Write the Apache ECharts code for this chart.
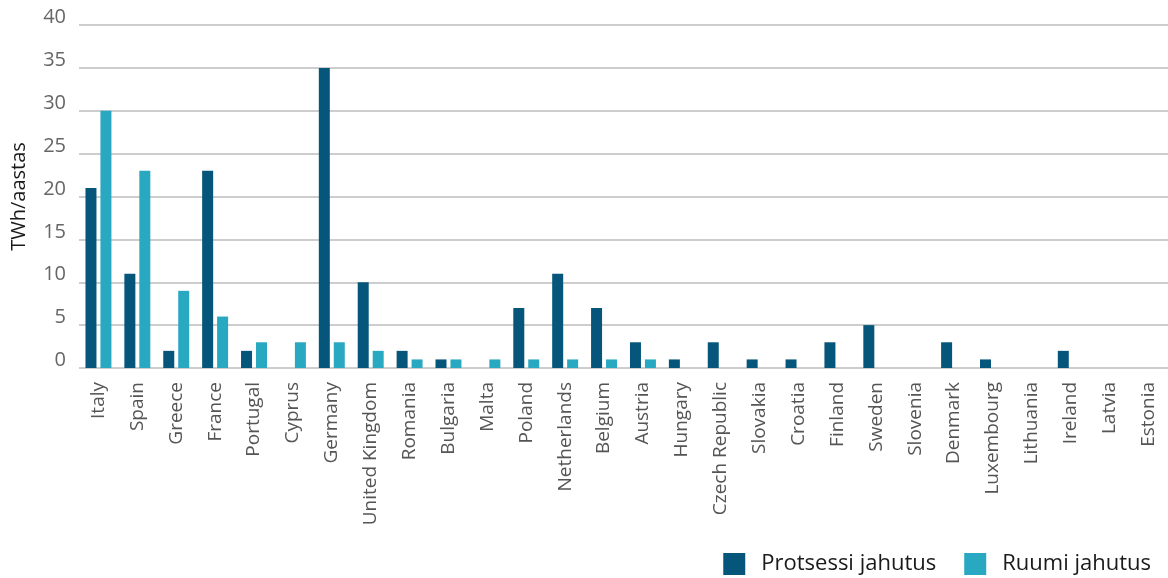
<!DOCTYPE html>
<html><head><meta charset="utf-8">
<script src="https://cdn.jsdelivr.net/npm/echarts@6/dist/echarts.min.js"></script>
<style>html,body{margin:0;padding:0;background:#fff}#c{width:1168px;height:578px}</style>
</head><body><div id="c"></div>
<script>
const categories = ["Italy","Spain","Greece","France","Portugal","Cyprus","Germany","United Kingdom","Romania","Bulgaria","Malta","Poland","Netherlands","Belgium","Austria","Hungary","Czech Republic","Slovakia","Croatia","Finland","Sweden","Slovenia","Denmark","Luxembourg","Lithuania","Ireland","Latvia","Estonia"];
const protsessi = [21,11,2,23,2,0,35,10,2,1,0,7,11,7,3,1,3,1,1,3,5,0,3,1,0,2,0,0];
const ruumi = [30,23,9,6,3,3,3,2,1,1,1,1,1,1,1,0,0,0,0,0,0,0,0,0,0,0,0,0];
const yTicks = [0,5,10,15,20,25,30,35,40];
const seriesNames = ["Protsessi jahutus","Ruumi jahutus"];

const chart = echarts.init(document.getElementById('c'));
chart.setOption({
  animation:false,
  textStyle:{fontFamily:'"Open Sans", sans-serif'},
  grid:{left:79,right:0,top:25,bottom:210},
  legend:{
    right:12,bottom:-2,itemWidth:22,itemHeight:22,itemGap:28,
    icon:'rect',
    textStyle:{fontSize:22,color:'#1a1a1a',fontFamily:'"Open Sans", sans-serif',padding:[0,0,0,11]},
    data:seriesNames
  },
  xAxis:{
    type:'category',data:categories,
    axisLine:{show:false},axisTick:{show:false},
    axisLabel:{rotate:90,interval:0,fontSize:19,color:'#555',margin:14}
  },
  yAxis:{
    type:'value',min:yTicks[0],max:yTicks[yTicks.length-1],interval:5,
    name:'TWh/aastas',nameLocation:'middle',nameGap:50,
    nameTextStyle:{fontSize:20,color:'#1a1a1a'},
    axisLabel:{fontSize:20,color:'#666',margin:13,verticalAlign:'bottom',lineHeight:15},
    splitLine:{show:true,lineStyle:{color:'#bdbdbd',width:1.5}},
    axisLine:{show:false},axisTick:{show:false}
  },
  series:[
    {name:seriesNames[0],type:'bar',data:protsessi,barWidth:11,barGap:'36%',itemStyle:{color:'#05567A'}},
    {name:seriesNames[1],type:'bar',data:ruumi,barWidth:11,itemStyle:{color:'#29A8C2'}}
  ]
});
</script></body></html>
